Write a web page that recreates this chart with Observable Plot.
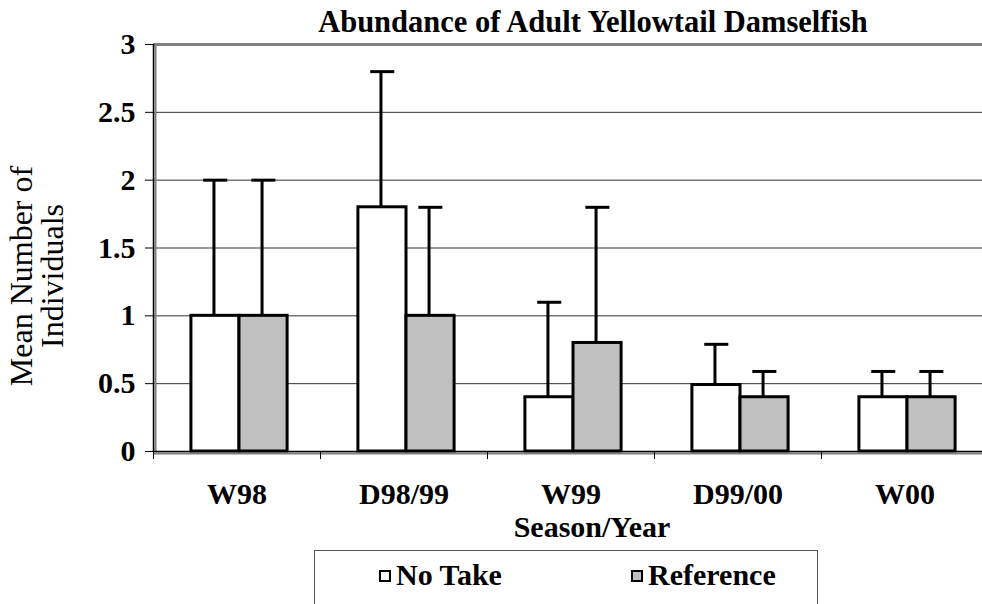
<!DOCTYPE html>
<html>
<head>
<meta charset="utf-8">
<script src="https://cdn.jsdelivr.net/npm/d3@7"></script>
<script src="https://cdn.jsdelivr.net/npm/@observablehq/plot@0.6"></script>
<style>
  html, body { margin: 0; padding: 0; background: #fff; }
  #wrap { position: relative; width: 982px; height: 604px; overflow: hidden;
          font-family: "Liberation Serif", "Times New Roman", serif; color: #000; }
  #chart { position: absolute; left: 0; top: 0; }
  .lbl { position: absolute; white-space: nowrap; font-size: 30px; line-height: 30px; }
  .b { font-weight: bold; }
  #title { left: 293px; width: 600px; top: 7px; text-align: center; font-size: 30.5px; }
  #xlab { left: 392px; width: 400px; top: 512px; text-align: center; }
  #ylab { left: 37px; top: 276px; transform: translate(-50%, -50%) rotate(-90deg);
          text-align: center; font-size: 32px; line-height: 31px; }
  #legend { position: absolute; left: 314px; top: 550px; width: 504px; height: 90px;
            border: 1px solid #555; box-sizing: border-box; }
  .sw { position: absolute; width: 12px; height: 12px; border: 2px solid #000; box-sizing: border-box; }
</style>
</head>
<body>
<div id="wrap">
  <div id="chart"></div>
  <div id="title" class="lbl b"></div>
  <div id="xlab" class="lbl b"></div>
  <div id="ylab" class="lbl"></div>
  <div id="legend"></div>
</div>
<script>
const titleText = "Abundance of Adult Yellowtail Damselfish";
const xTitle = "Season/Year";
const yTitleLines = ["Mean Number of", "Individuals"];
const seasons = ["W98", "D98/99", "W99", "D99/00", "W00"];
const seriesNames = ["No Take", "Reference"];
const seriesColors = ["#ffffff", "#c0c0c0"];
const noTakeMean = [1.0, 1.8, 0.4, 0.49, 0.4];
const noTakeUpper = [2.0, 2.8, 1.1, 0.79, 0.59];
const referenceMean = [1.0, 1.0, 0.8, 0.4, 0.4];
const referenceUpper = [2.0, 1.8, 1.8, 0.59, 0.59];
const yTicks = [0, 0.5, 1, 1.5, 2, 2.5, 3];

const rows = seasons.flatMap((s, i) => [
  {season: s, idx: i, series: seriesNames[0], mean: noTakeMean[i], upper: noTakeUpper[i]},
  {season: s, idx: i, series: seriesNames[1], mean: referenceMean[i], upper: referenceUpper[i]}
]);

const BAR = 0.288, SHIFT = 0.015, CAP = 0.072, WOFF = -0.009;
const left = d => d.idx + 0.5 + SHIFT + (d.series === seriesNames[0] ? -BAR : 0);
const right = d => left(d) + BAR;
const mid = d => left(d) + BAR / 2 + WOFF;
const bounds = d3.range(seasons.length + 1);
const centers = seasons.map((s, i) => i + 0.5);

const chart = Plot.plot({
  width: 982,
  height: 604,
  marginLeft: 153,
  marginTop: 44,
  marginBottom: 153,
  marginRight: -6,
  x: {domain: [0, seasons.length]},
  y: {domain: [0, 3]},
  color: {domain: seriesNames, range: seriesColors},
  style: {fontFamily: "'Liberation Serif','Times New Roman',serif", fontSize: "30px", color: "#000", background: "transparent"},
  marks: [
    Plot.ruleY(yTicks.filter(v => v > 0 && v < 3), {stroke: "#333", strokeWidth: 1}),
    Plot.ruleY([3], {stroke: "#808080", strokeWidth: 3}),
    Plot.ruleX(rows, {x: mid, y1: "mean", y2: "upper", stroke: "#000", strokeWidth: 3}),
    Plot.ruleY(rows, {y: "upper", x1: d => mid(d) - CAP * 0.85, x2: d => mid(d) + CAP * 1.15, stroke: "#000", strokeWidth: 3}),
    Plot.rect(rows, {x1: left, x2: right, y1: 0, y2: "mean", fill: "series", stroke: "#000", strokeWidth: 3}),
    Plot.ruleX([0], {stroke: "#808080", strokeWidth: 2, dx: 2}),
    Plot.ruleY([0], {stroke: "#808080", strokeWidth: 2, dy: 2}),
    Plot.ruleX([0], {stroke: "#000", strokeWidth: 1.5}),
    Plot.ruleY([0], {stroke: "#000", strokeWidth: 1.5}),
    Plot.axisY(yTicks, {tickSize: 8, tickPadding: 10, fontWeight: "bold", fontSize: 30, tickFormat: d => String(d), label: null}),
    Plot.axisX(bounds, {tickSize: 8, tickFormat: () => "", label: null}),
    Plot.axisX(centers, {tickSize: 0, tickPadding: 31, fontWeight: "bold", fontSize: 30, tickFormat: v => seasons[Math.round(v - 0.5)], label: null})
  ]
});
document.getElementById("chart").appendChild(chart);

document.getElementById("title").textContent = titleText;
document.getElementById("xlab").textContent = xTitle;
document.getElementById("ylab").innerHTML = yTitleLines.join("<br>");

const legend = document.getElementById("legend");
const legendPos = [{sq: 64, tx: 81}, {sq: 316, tx: 333}];
seriesNames.forEach((name, i) => {
  const sq = document.createElement("div");
  sq.className = "sw";
  sq.style.left = legendPos[i].sq + "px";
  sq.style.top = "19px";
  sq.style.background = seriesColors[i];
  legend.appendChild(sq);
  const t = document.createElement("div");
  t.className = "lbl b";
  t.style.left = legendPos[i].tx + "px";
  t.style.top = "9px";
  t.textContent = name;
  legend.appendChild(t);
});
</script>
</body>
</html>
